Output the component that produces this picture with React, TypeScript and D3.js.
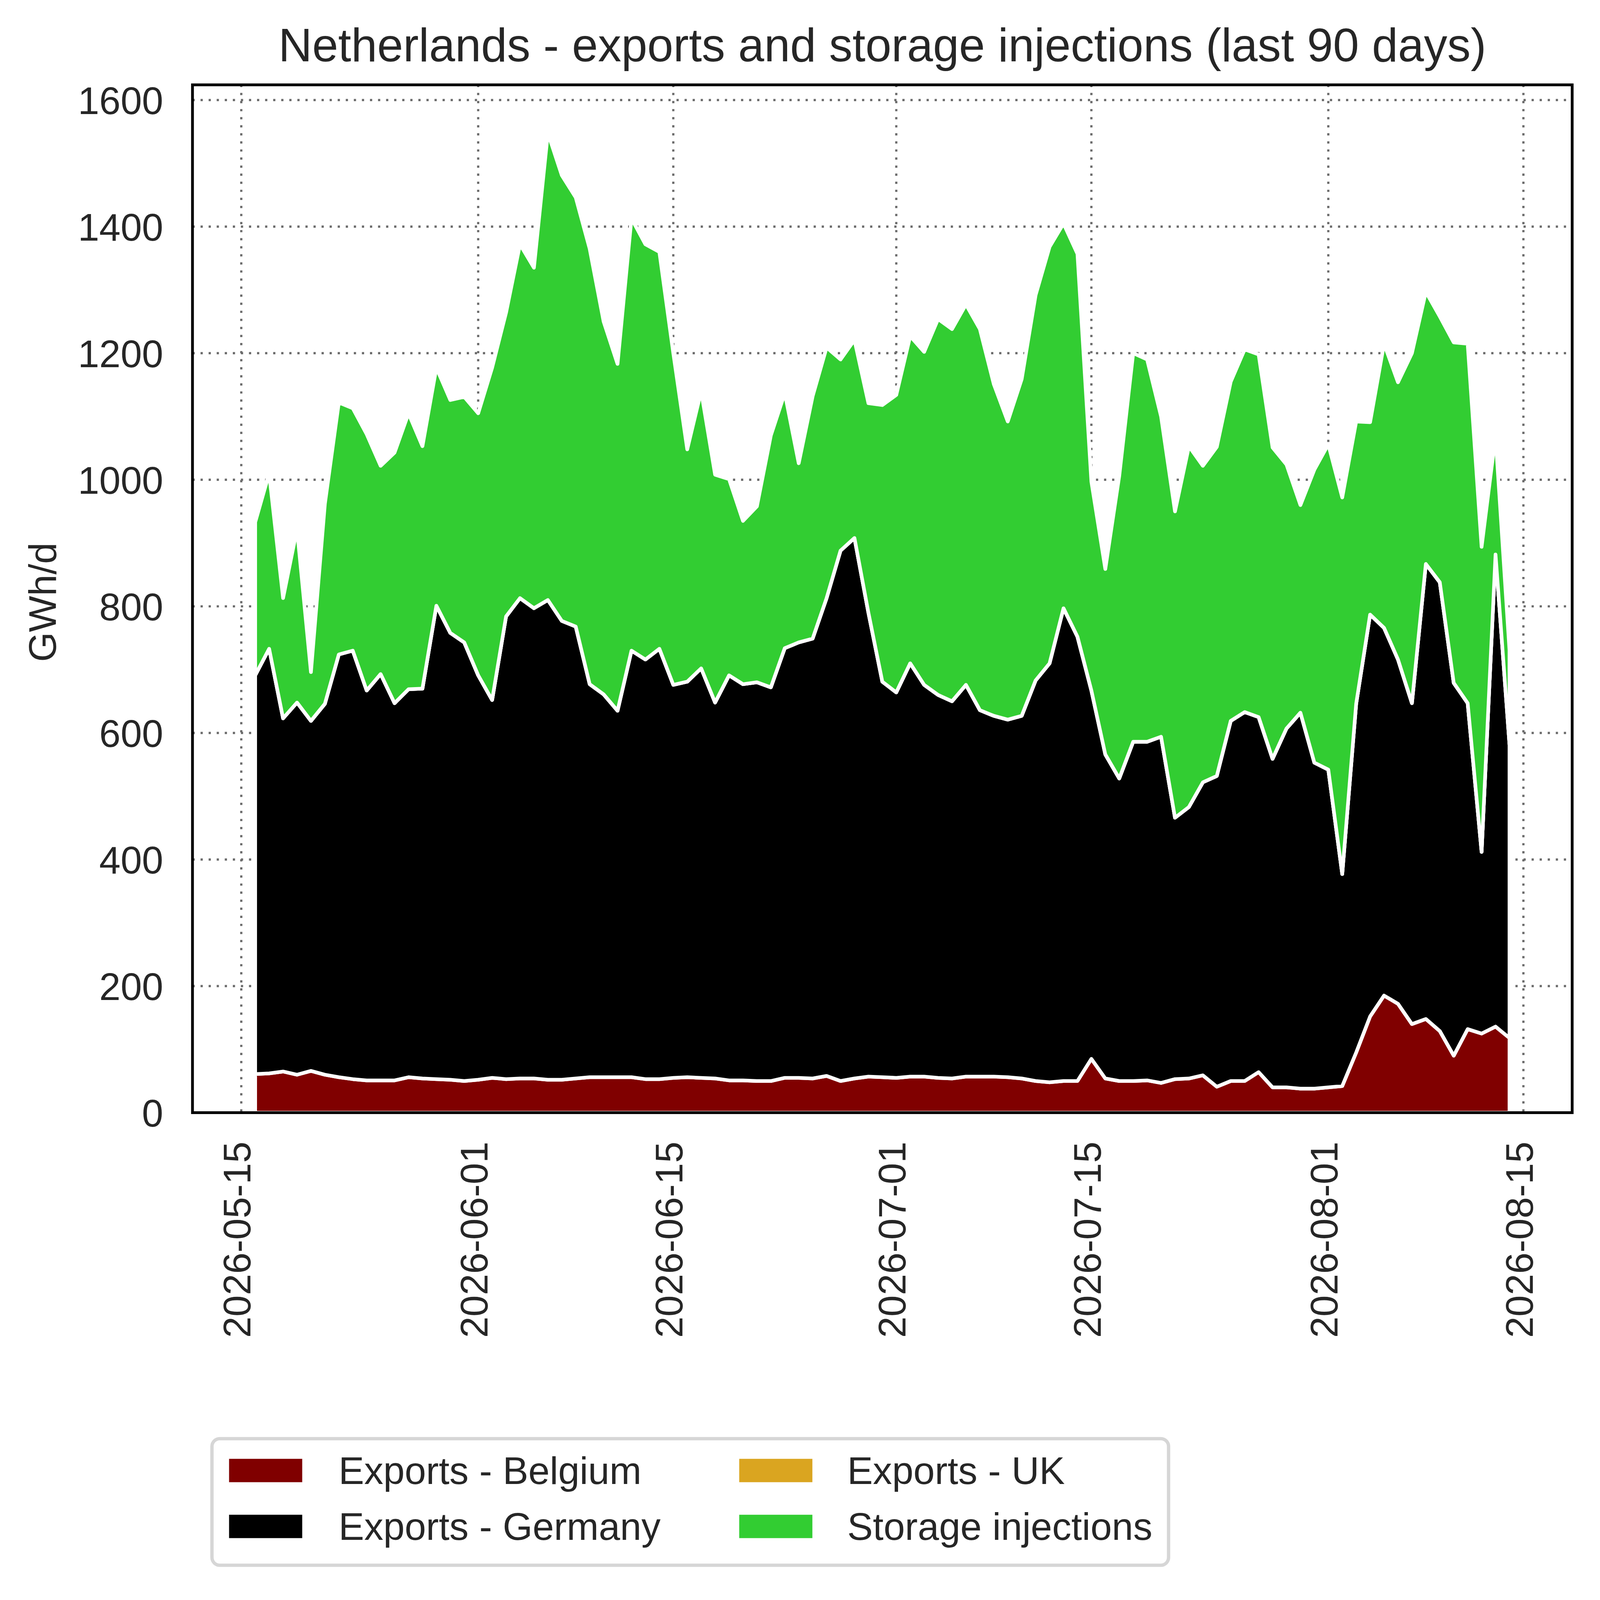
import React, { useEffect, useRef } from 'react';
import * as d3 from 'd3';

// first and last gas day in the chart (one value per day)
const START_DAY = '2026-05-16';
const END_DAY = '2026-08-14';

const belgium = [
    61, 62, 65, 60, 66, 60, 56, 53, 51, 51, 51, 56, 54, 53, 52, 50,
    52, 55, 53, 54, 54, 52, 52, 54, 56, 56, 56, 56, 53, 53, 55, 56,
    55, 54, 51, 51, 50, 50, 55, 55, 54, 58, 50, 54, 57, 56, 55, 57,
    57, 55, 54, 57, 57, 57, 56, 54, 50, 48, 50, 50, 85, 54, 50, 50,
    51, 47, 53, 54, 59, 41, 50, 50, 64, 40, 40, 38, 38, 40, 42, 95,
    152, 185, 172, 140, 148, 129, 90, 132, 125, 136, 118
];

const germany = [
    630, 671, 558, 588, 553, 586, 668, 677, 616, 642, 596, 613, 616, 748, 706, 693,
    639, 597, 731, 759, 743, 758, 725, 714, 621, 605, 579, 674, 663, 680, 621, 625,
    647, 594, 640, 626, 630, 622, 679, 688, 695, 755, 838, 854, 733, 625, 609, 653,
    619, 605, 596, 619, 579, 570, 565, 573, 633, 662, 747, 702, 582, 512, 478, 536,
    535, 547, 413, 429, 463, 491, 569, 583, 561, 519, 567, 594, 515, 502, 335, 551,
    635, 581, 544, 507, 719, 709, 589, 515, 287, 746, 464
];

const uk = [
    0, 0, 0, 0, 0, 0, 0, 0, 0, 0, 0, 0, 0, 0, 0, 0,
    0, 0, 0, 0, 0, 0, 0, 0, 0, 0, 0, 0, 0, 0, 0, 0,
    0, 0, 0, 0, 0, 0, 0, 0, 0, 0, 0, 0, 0, 0, 0, 0,
    0, 0, 0, 0, 0, 0, 0, 0, 0, 0, 0, 0, 0, 0, 0, 0,
    0, 0, 0, 0, 0, 0, 0, 0, 0, 0, 0, 0, 0, 0, 0, 0,
    0, 0, 0, 0, 0, 0, 0, 0, 0, 0, 0
];

const storage = [
    242, 277, 190, 274, 77, 316, 398, 383, 405, 329, 396, 436, 383, 376, 368, 388,
    414, 525, 480, 559, 538, 738, 704, 678, 688, 589, 548, 683, 656, 627, 524, 367,
    438, 360, 310, 258, 278, 398, 403, 283, 383, 396, 302, 313, 331, 437, 470, 517,
    526, 594, 588, 601, 602, 524, 471, 532, 609, 658, 608, 605, 330, 293, 478, 614,
    604, 506, 484, 570, 500, 520, 536, 573, 573, 492, 417, 328, 463, 514, 595, 446,
    304, 449, 438, 553, 430, 420, 538, 568, 482, 187, 149
];

const seriesKeys = ['belgium', 'germany', 'uk', 'storage'];
const seriesNames = ['Exports - Belgium', 'Exports - Germany', 'Exports - UK', 'Storage injections'];
const seriesColors = ['#800000', '#000000', '#DAA520', '#32CD32'];

const xTickLabels = ['2026-05-15', '2026-06-01', '2026-06-15', '2026-07-01', '2026-07-15', '2026-08-01', '2026-08-15'];
const yTicks = [0, 200, 400, 600, 800, 1000, 1200, 1400, 1600];

const W = 5752;
const H = 5721;
const FONT = '"Liberation Sans", Arial, Helvetica, sans-serif';
const TEXT = '#262626';

const App: React.FC = () => {
    const svgRef = useRef<SVGSVGElement>(null);

    useEffect(() => {
        document.body.style.margin = '0';
        document.body.style.overflow = 'hidden';
        const svg = d3.select(svgRef.current);
        svg.selectAll('*').remove();

        const plot = { left: 692, right: 5652, top: 305, bottom: 4000 };

        const parse = d3.utcParse('%Y-%m-%d');
        const first = parse(START_DAY) as Date;
        const last = parse(END_DAY) as Date;
        const days = d3.utcDay.range(first, d3.utcDay.offset(last, 1));

        const rows = days.map((date, i) => ({
            date,
            belgium: belgium[i],
            germany: germany[i],
            uk: uk[i],
            storage: storage[i]
        }));

        // matplotlib-like 5% margin on the time axis
        const x = d3.scaleUtc()
            .domain([d3.utcHour.offset(first, -108), d3.utcHour.offset(last, 108)])
            .range([plot.left, plot.right]);

        const y = d3.scaleLinear()
            .domain([0, 1624])
            .range([plot.bottom, plot.top]);

        const xTicks = xTickLabels.map(s => parse(s) as Date);

        // Grid
        const grid = svg.append('g')
            .attr('stroke', '#6b6b6b')
            .attr('stroke-width', 8)
            .attr('stroke-dasharray', '8 21');

        grid.selectAll('.hgrid')
            .data(yTicks)
            .enter()
            .append('line')
            .attr('x1', plot.left)
            .attr('x2', plot.right)
            .attr('y1', d => y(d))
            .attr('y2', d => y(d));

        grid.selectAll('.vgrid')
            .data(xTicks)
            .enter()
            .append('line')
            .attr('x1', d => x(d))
            .attr('x2', d => x(d))
            .attr('y1', plot.top)
            .attr('y2', plot.bottom);

        // Stacked areas
        const stack = d3.stack<any>().keys(seriesKeys);
        const layers = stack(rows);

        const area = d3.area<any>()
            .x(d => x(d.data.date))
            .y0(d => y(d[0]))
            .y1(d => y(d[1]));

        svg.append('g')
            .selectAll('path')
            .data(layers)
            .enter()
            .append('path')
            .attr('d', area)
            .attr('fill', (_, i) => seriesColors[i])
            .attr('stroke', '#ffffff')
            .attr('stroke-width', 13)
            .attr('stroke-linejoin', 'round');

        // Y axis
        const yAxis = svg.append('g')
            .attr('transform', `translate(${plot.left},0)`)
            .call(d3.axisLeft(y)
                .tickValues(yTicks)
                .tickFormat(d3.format('d'))
                .tickSize(0)
                .tickPadding(105));
        yAxis.select('.domain').remove();
        yAxis.attr('font-size', 138).attr('font-family', FONT);
        yAxis.selectAll('text')
            .attr('fill', TEXT)
            .attr('dy', '0.36em');

        // X axis (rotated date labels)
        const xAxis = svg.append('g')
            .attr('transform', `translate(0,${plot.bottom})`)
            .call(d3.axisBottom(x)
                .tickValues(xTicks)
                .tickFormat(d => d3.utcFormat('%Y-%m-%d')(d as Date))
                .tickSize(0));
        xAxis.select('.domain').remove();
        xAxis.attr('font-size', 138).attr('font-family', FONT);
        xAxis.selectAll('text')
            .attr('fill', TEXT)
            .attr('transform', 'rotate(-90)')
            .attr('text-anchor', 'end')
            .attr('x', -104)
            .attr('y', 0)
            .attr('dy', 33);

        // Frame
        svg.append('rect')
            .attr('x', plot.left)
            .attr('y', plot.top)
            .attr('width', plot.right - plot.left)
            .attr('height', plot.bottom - plot.top)
            .attr('fill', 'none')
            .attr('stroke', '#000000')
            .attr('stroke-width', 10);

        // Title and y label
        svg.append('text')
            .attr('x', (plot.left + plot.right) / 2)
            .attr('y', 221)
            .attr('text-anchor', 'middle')
            .attr('font-family', FONT)
            .attr('font-size', 168)
            .attr('fill', TEXT)
            .text('Netherlands - exports and storage injections (last 90 days)');

        svg.append('text')
            .attr('transform', 'translate(201,2165) rotate(-90)')
            .attr('text-anchor', 'middle')
            .attr('font-family', FONT)
            .attr('font-size', 138)
            .attr('fill', TEXT)
            .text('GWh/d');

        // Legend (2 columns, filled column-first)
        svg.append('rect')
            .attr('x', 762)
            .attr('y', 5172)
            .attr('width', 3439)
            .attr('height', 455)
            .attr('rx', 28)
            .attr('fill', '#ffffff')
            .attr('stroke', '#d6d6d6')
            .attr('stroke-width', 12);

        const colPatchX = [817, 2651];
        const colTextX = [1217, 3046];
        const rowBase = [5335, 5536];

        const items = svg.append('g')
            .selectAll('g')
            .data(seriesNames)
            .enter()
            .append('g');

        items.append('rect')
            .attr('x', (_, i) => colPatchX[Math.floor(i / 2)])
            .attr('y', (_, i) => rowBase[i % 2] - 97)
            .attr('width', 276)
            .attr('height', 97)
            .attr('fill', (_, i) => seriesColors[i])
            .attr('stroke', '#ffffff')
            .attr('stroke-width', 13);

        items.append('text')
            .attr('x', (_, i) => colTextX[Math.floor(i / 2)])
            .attr('y', (_, i) => rowBase[i % 2])
            .attr('font-family', FONT)
            .attr('font-size', 138)
            .attr('fill', TEXT)
            .text(d => d);
    }, []);

    return (
        <svg
            ref={svgRef}
            viewBox={`0 0 ${W} ${H}`}
            preserveAspectRatio="xMinYMin meet"
            style={{ display: 'block', width: '100vw', height: '100vh', background: '#ffffff' }}
        />
    );
};

export default App;
